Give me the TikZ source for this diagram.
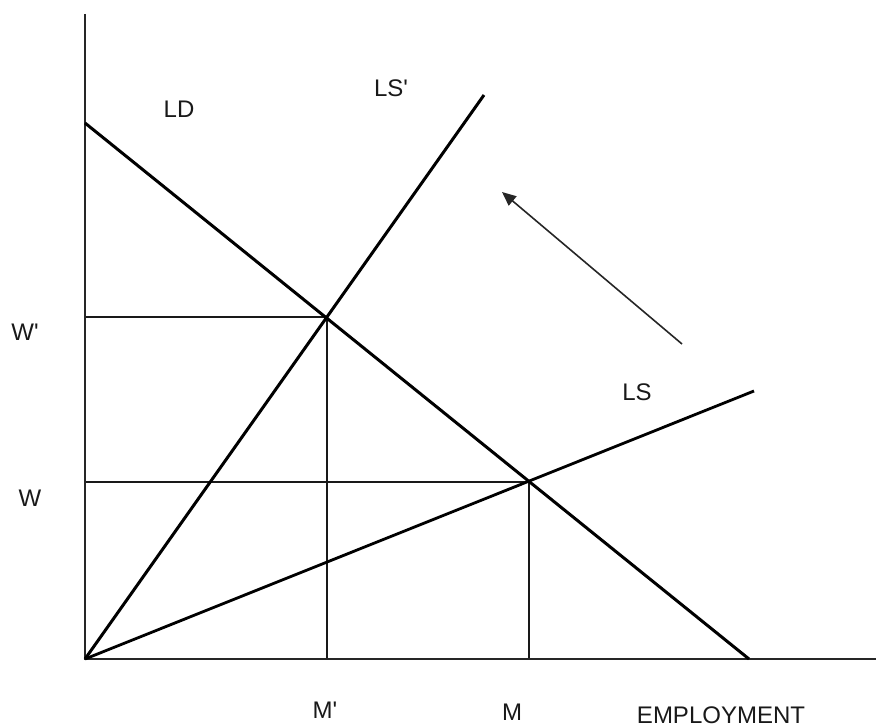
\documentclass[tikz,border=0pt]{standalone}
\usepackage{fontspec}
\setmainfont{Liberation Sans}
\usetikzlibrary{arrows.meta}
\begin{document}
\begin{tikzpicture}[x=1pt,y=-1pt,
  axisline/.style={line width=1.6pt,draw=black!85},
  curve/.style={line width=3pt,draw=black},
  guide/.style={line width=1.4pt,draw=black!90},
  shiftarrow/.style={line width=1.6pt,draw=black!85,-{Triangle[length=14pt,width=12pt]}},
  lbl/.style={font=\fontsize{24}{28}\selectfont,text=black!90,inner sep=0pt}]
\useasboundingbox (0,0) rectangle (876,727);
% key points
\coordinate (O) at (85,659);
\coordinate (ytop) at (85,14);
\coordinate (xend) at (876,659);
\coordinate (LDa) at (85,123);
\coordinate (LDb) at (749,659);
\coordinate (LSpend) at (484,95);
\coordinate (LSend) at (754,391);
\coordinate (Ep) at (327,317);
\coordinate (E) at (529,482);
\coordinate (Wp) at (85,317);
\coordinate (Wq) at (85,482);
\coordinate (Mp) at (327,659);
\coordinate (Mq) at (529,659);
\coordinate (atail) at (682,344);
\coordinate (ahead) at (502,192);
% guides
\draw[guide] (Wp) -- (Ep) -- (Mp);
\draw[guide] (Wq) -- (E) -- (Mq);
% axes
\draw[axisline] (ytop) -- (O) -- (xend);
% curves
\draw[curve] (LDa) -- (LDb);
\draw[curve] (O) -- (LSpend);
\draw[curve,line width=2.8pt] (O) -- (LSend);
% arrow
\draw[shiftarrow] (atail) -- (ahead);
% labels
\node[lbl] (tLD) at (179,109) {LD};
\node[lbl] (tLSp) at (391,88) {LS\textquotesingle};
\node[lbl] (tLS) at (637,392) {LS};
\node[lbl] (tWp) at (25,332) {W\textquotesingle};
\node[lbl] (tW) at (30,498) {W};
\node[lbl] (tMp) at (325,710) {M\textquotesingle};
\node[lbl] (tM) at (512,712) {M};
\node[lbl,anchor=base] (tEmp) at (721,723) {EMPLOYMENT};
\end{tikzpicture}
\end{document}
